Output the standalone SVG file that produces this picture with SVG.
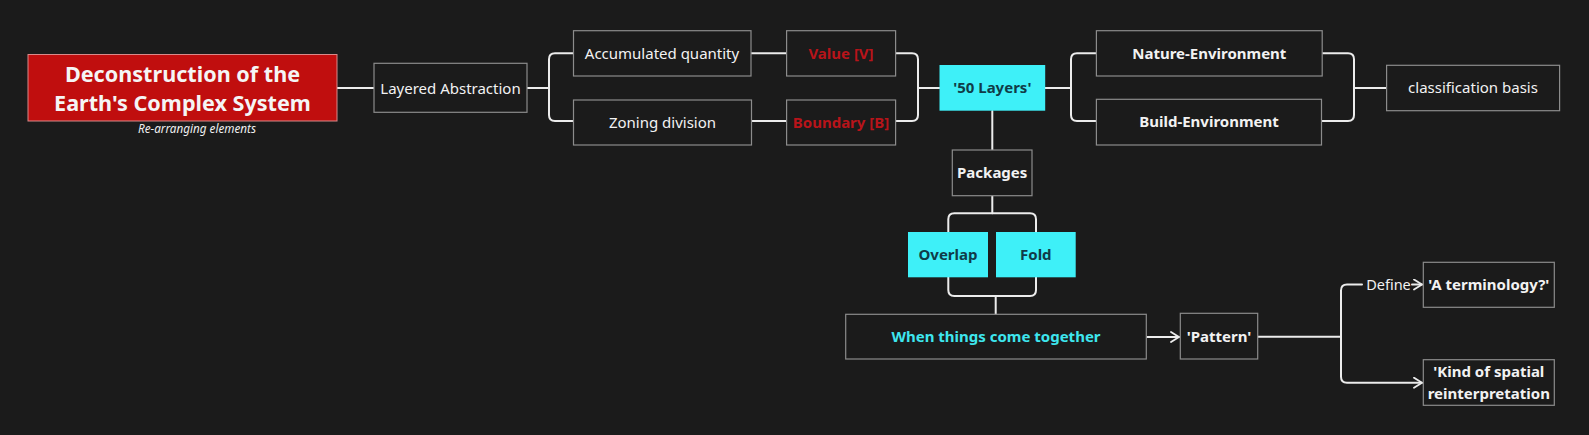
<svg xmlns="http://www.w3.org/2000/svg" width="1589" height="435" viewBox="0 0 1589 435">
<defs>
<style>
text{font-family:"Noto Sans","Open Sans","DejaVu Sans",sans-serif;text-anchor:middle}
.box{fill:#1b1b1b;stroke:#8c8c8c;stroke-width:1.2}
.cy{fill:#3ef0f8;stroke:none}
.t{fill:#f2f2f2;font-size:15px}
.b{fill:#f2f2f2;font-size:15px;font-weight:700}
.r{fill:#b8141a;font-size:15px;font-weight:700}
.d{fill:#103c48;font-size:15px;font-weight:700}
.c{fill:#3ee6ee;font-size:15px;font-weight:700}
.ln{fill:none;stroke:#ececec;stroke-width:2;stroke-linecap:round;stroke-linejoin:round}
</style>
<marker id="ah" viewBox="0 0 10 12" refX="9" refY="6" markerWidth="10" markerHeight="12" markerUnits="userSpaceOnUse" orient="auto">
<path d="M1,1 L9,6 L1,11" fill="none" stroke="#ececec" stroke-width="1.8" stroke-linecap="round" stroke-linejoin="round"/>
</marker>
</defs>
<rect width="1589" height="435" fill="#1b1b1b"/>

<g id="connectors">
<path class="ln" d="M337,88 H374"/>
<path class="ln" d="M527,88 H548"/>
<path class="ln" d="M573.5,53.3 H555 Q549,53.3 549,59.3 V115 Q549,121 555,121 H573.5"/>
<path class="ln" d="M751,53.3 H786.6"/>
<path class="ln" d="M751.4,121 H786.6"/>
<path class="ln" d="M896,53.3 H912 Q918,53.3 918,59.3 V115 Q918,121 912,121 H896"/>
<path class="ln" d="M918,88 H939.5"/>
<path class="ln" d="M1045,88 H1070"/>
<path class="ln" d="M1096.4,53.3 H1077 Q1071,53.3 1071,59.3 V115 Q1071,121 1077,121 H1096.4"/>
<path class="ln" d="M1322,53.3 H1348 Q1354,53.3 1354,59.3 V115 Q1354,121 1348,121 H1321.5"/>
<path class="ln" d="M1354,88 H1386.6"/>
<path class="ln" d="M992.3,111 V150"/>
<path class="ln" d="M992.3,195.7 V213.3"/>
<path class="ln" d="M948.3,232 V219.3 Q948.3,213.3 954.3,213.3 H1030 Q1036,213.3 1036,219.3 V232"/>
<path class="ln" d="M948.3,277.3 V290 Q948.3,296 954.3,296 H1030 Q1036,296 1036,290 V277.3"/>
<path class="ln" d="M995.7,296 V314.3"/>
<path class="ln" d="M1146.3,337 H1179" marker-end="url(#ah)"/>
<path class="ln" d="M1257.7,336.7 H1341"/>
<path class="ln" d="M1362,284.5 H1347 Q1341,284.5 1341,290.5 V376.7 Q1341,382.7 1347,382.7 H1422" marker-end="url(#ah)"/>
<path class="ln" d="M1412,284.5 H1422" marker-end="url(#ah)"/>
<text x="1388.5" y="290" class="t" style="font-size:14.5px">Define</text>
</g>

<g id="n-main">
<rect x="28" y="54.5" width="309" height="66.5" fill="#c00e0e" stroke="#d88a8a" stroke-width="1"/>
<text x="182.5" y="81.5" fill="#f5f5f5" font-size="21.6" font-weight="700">Deconstruction of the</text>
<text x="182.5" y="110.5" fill="#f5f5f5" font-size="21.6" font-weight="700">Earth's Complex System</text>
<text x="197" y="133" fill="#f0f0f0" font-size="11.7" font-style="italic">Re-arranging elements</text>
</g>
<g id="n-layered"><rect class="box" x="374" y="63.3" width="153" height="49"/><text class="t" x="450.5" y="93.5">Layered Abstraction</text></g>
<g id="n-accum"><rect class="box" x="573.5" y="30.7" width="177.5" height="45.3"/><text class="t" x="662" y="58.5">Accumulated quantity</text></g>
<g id="n-zoning"><rect class="box" x="573.5" y="100" width="178" height="45"/><text class="t" x="662.5" y="127.5">Zoning division</text></g>
<g id="n-value"><rect class="box" x="786.6" y="30.7" width="109" height="45.3"/><text class="r" x="841" y="58.5">Value [V]</text></g>
<g id="n-boundary"><rect class="box" x="786.6" y="100" width="109" height="45"/><text class="r" x="841" y="127.5">Boundary [B]</text></g>
<g id="n-50layers"><rect class="cy" x="939.5" y="65" width="105.7" height="45.7"/><text class="d" x="992.3" y="93">'50 Layers'</text></g>
<g id="n-nature"><rect class="box" x="1096.4" y="30.7" width="225.8" height="45.3"/><text class="b" x="1209.3" y="58.5">Nature-Environment</text></g>
<g id="n-build"><rect class="box" x="1096.4" y="99.3" width="225.1" height="45.7"/><text class="b" x="1209" y="127">Build-Environment</text></g>
<g id="n-class"><rect class="box" x="1386.6" y="65.3" width="173" height="45.4"/><text class="t" x="1473" y="93">classification basis</text></g>
<g id="n-packages"><rect class="box" x="952.3" y="150" width="79.7" height="45.7"/><text class="b" x="992.2" y="178">Packages</text></g>
<g id="n-overlap"><rect class="cy" x="908" y="232" width="80" height="45.3"/><text class="d" x="948" y="260">Overlap</text></g>
<g id="n-fold"><rect class="cy" x="996" y="232" width="79.7" height="45.3"/><text class="d" x="1035.8" y="260">Fold</text></g>
<g id="n-when"><rect class="box" x="845.7" y="314.3" width="300.6" height="44.7"/><text class="c" x="996" y="342">When things come together</text></g>
<g id="n-pattern"><rect class="box" x="1180.3" y="313.3" width="77.4" height="45.7"/><text class="b" x="1219" y="341.5">'Pattern'</text></g>
<g id="n-term"><rect class="box" x="1423.3" y="262.3" width="131" height="45"/><text class="b" x="1488.8" y="290">'A terminology?'</text></g>
<g id="n-kind"><rect class="box" x="1423.3" y="359.7" width="131" height="45.6"/><text class="b" x="1488.8" y="376.5">'Kind of spatial</text><text class="b" x="1488.8" y="398.5">reinterpretation</text></g>
</svg>
